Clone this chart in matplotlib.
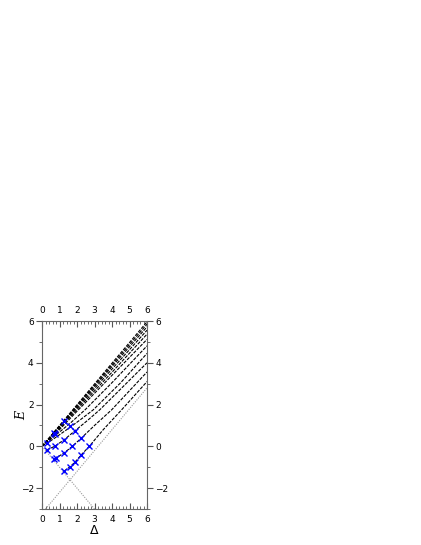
import matplotlib
matplotlib.use("Agg")
import matplotlib.pyplot as plt
import numpy as np
from matplotlib.ticker import MultipleLocator

# dashed curves (Delta, E)
curve_d = [
    [1.27, 1.58, 1.89, 2.25, 2.7, 3.5, 4.55, 6.0],
    [0.72, 1.27, 1.73, 2.25, 3.0, 3.98, 6.0],
    [0.27, 0.72, 1.27, 1.89, 2.6, 3.3, 4.5, 6.0],
    [0.0, 0.7, 1.5, 2.2, 2.93, 4.5, 6.0],
    [0.0, 0.8, 1.6, 2.46, 4.0, 6.0],
    [0.0, 1.0, 2.08, 4.0, 6.0],
    [0.0, 1.0, 1.95, 4.0, 6.0],
    [0.0, 1.0, 2.0, 4.0, 6.0],
    [0.0, 2.0, 4.0, 6.0],
    [0.0, 2.0, 4.0, 6.0],
    [0.0, 2.0, 4.0, 6.0],
]
curve_e = [
    [-1.18, -0.99, -0.75, -0.4, 0.0, 0.8, 1.75, 3.1],
    [-0.6, -0.31, 0.0, 0.4, 1.0, 1.75, 3.56],
    [-0.17, 0.0, 0.32, 0.75, 1.24, 1.75, 2.75, 4.0],
    [0.0, 0.38, 0.85, 1.28, 1.75, 3.05, 4.45],
    [0.0, 0.55, 1.1, 1.75, 3.05, 4.81],
    [0.0, 0.8, 1.75, 3.4, 5.12],
    [0.0, 0.86, 1.72, 3.55, 5.37],
    [0.0, 0.91, 1.84, 3.7, 5.56],
    [0.0, 1.9, 3.82, 5.72],
    [0.0, 1.95, 3.9, 5.85],
    [0.0, 1.99, 3.98, 5.96],
]

# crosses
pts_d = [0.27, 0.27, 0.70, 0.76, 0.70, 0.80, 0.72, 1.24, 1.27, 1.27, 1.27,
         1.58, 1.60, 1.89, 1.89, 2.25, 2.25, 2.70, 1.73]
pts_e = [0.17, -0.17, 0.62, 0.58, -0.60, -0.55, 0.0, 1.20, 0.32, -0.31, -1.18,
         0.99, -0.99, 0.75, -0.75, 0.42, -0.40, 0.0, 0.0]

# dotted guide lines
guide1_d = [0.0, 3.0]
guide1_e = [0.0, -3.0]
guide2_d = [0.2, 6.0]
guide2_e = [-3.0, 2.8]

fig = plt.figure(figsize=(4.21, 5.45), dpi=100)
ax = fig.add_axes([0.0998, 0.066, 0.2494, 0.345])

ax.plot(guide1_d, guide1_e, color='#999999', lw=0.8, ls=(0, (1, 1.2)))
ax.plot(guide2_d, guide2_e, color='#999999', lw=0.8, ls=(0, (1, 1.2)))

for d, e in zip(curve_d, curve_e):
    ax.plot(d, e, color='black', lw=0.8, ls=(0, (3, 1.2)))

ax.plot(pts_d, pts_e, ls='none', marker='x', color='#0000ff', ms=5, mew=1.0)

ax.set_xlim(0, 6)
ax.set_ylim(-3, 6)
ax.xaxis.set_major_locator(MultipleLocator(1))
ax.xaxis.set_minor_locator(MultipleLocator(0.2))
ax.yaxis.set_major_locator(MultipleLocator(2))
ax.yaxis.set_minor_locator(MultipleLocator(1))
ax.tick_params(axis='x', which='both', direction='in', top=True, labeltop=True,
               labelsize=6.5, color='#555555', pad=4)
ax.tick_params(axis='x', which='major', length=4)
ax.tick_params(axis='x', which='minor', length=2)
ax.tick_params(axis='y', which='both', direction='out', right=True, labelright=True,
               labelsize=6.5, color='#555555', pad=2)
ax.tick_params(axis='y', which='major', length=4)
ax.tick_params(axis='y', which='minor', length=2.5)
for s in ax.spines.values():
    s.set_color('#666666')
    s.set_linewidth(0.8)

ax.set_xlabel(r'$\Delta$', fontsize=9, family='serif')
ax.set_ylabel('E', fontsize=9, style='italic', family='serif')
ax.xaxis.set_label_coords(0.5, -0.08)
ax.yaxis.set_label_coords(-0.13, 0.5)

fig.savefig('out.png', dpi=100)
